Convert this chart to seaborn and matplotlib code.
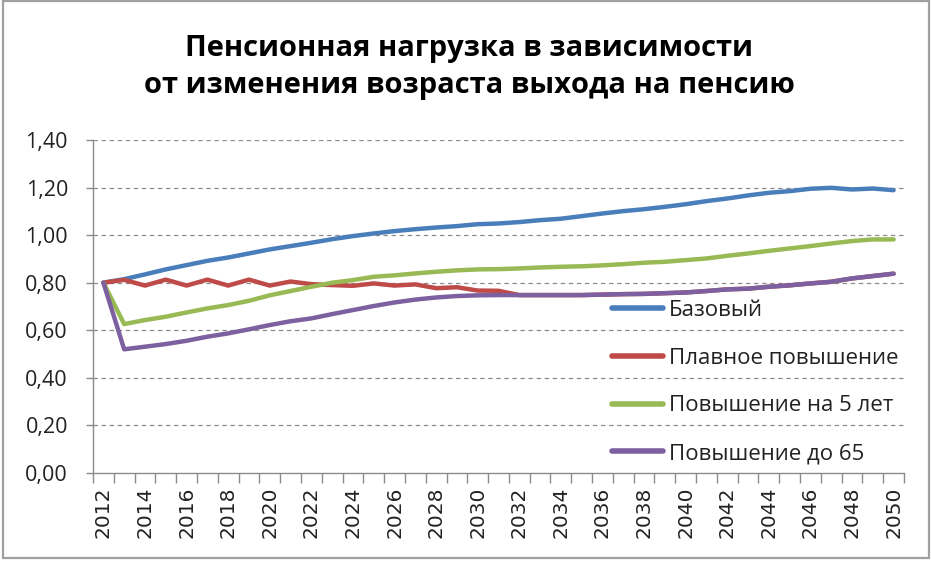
import matplotlib
matplotlib.use("Agg")
import matplotlib.pyplot as plt
from matplotlib.patches import Rectangle
from matplotlib.ticker import FixedLocator, FuncFormatter
import pandas as pd
import seaborn as sns

# --- data -------------------------------------------------------------
years = list(range(2012, 2051))

series_names = [
    "Базовый",
    "Плавное повышение",
    "Повышение на 5 лет",
    "Повышение до 65",
]

base = [0.800, 0.815, 0.835, 0.856, 0.874, 0.892, 0.906, 0.923, 0.940, 0.954,
        0.968, 0.983, 0.996, 1.007, 1.017, 1.025, 1.032, 1.038, 1.046, 1.049,
        1.055, 1.063, 1.069, 1.080, 1.091, 1.101, 1.109, 1.119, 1.130, 1.143,
        1.154, 1.167, 1.178, 1.185, 1.195, 1.199, 1.192, 1.196, 1.189]

smooth = [0.800, 0.812, 0.788, 0.813, 0.788, 0.813, 0.788, 0.813, 0.788, 0.805,
          0.794, 0.790, 0.787, 0.797, 0.788, 0.793, 0.777, 0.781, 0.767, 0.766,
          0.748, 0.748, 0.748, 0.748, 0.750, 0.752, 0.753, 0.756, 0.759, 0.765,
          0.772, 0.775, 0.783, 0.789, 0.797, 0.804, 0.818, 0.828, 0.838]

plus5 = [0.800, 0.626, 0.643, 0.657, 0.675, 0.692, 0.706, 0.724, 0.747, 0.765,
         0.783, 0.800, 0.811, 0.825, 0.831, 0.839, 0.846, 0.852, 0.856, 0.857,
         0.860, 0.864, 0.867, 0.869, 0.873, 0.878, 0.884, 0.888, 0.895, 0.902,
         0.913, 0.923, 0.934, 0.944, 0.954, 0.965, 0.975, 0.982, 0.982]

to65 = [0.800, 0.520, 0.531, 0.542, 0.556, 0.573, 0.587, 0.604, 0.622, 0.638,
        0.650, 0.668, 0.685, 0.702, 0.717, 0.729, 0.738, 0.744, 0.747, 0.748,
        0.748, 0.748, 0.748, 0.748, 0.750, 0.752, 0.753, 0.756, 0.759, 0.765,
        0.772, 0.775, 0.783, 0.789, 0.797, 0.804, 0.818, 0.828, 0.838]

colors = ["#4A7EBB", "#BE4B48", "#98B954", "#7D60A0"]

y_ticks = [0.0, 0.2, 0.4, 0.6, 0.8, 1.0, 1.2, 1.4]
x_label_years = list(range(2012, 2051, 2))

title = "Пенсионная нагрузка в зависимости\nот изменения возраста выхода на пенсию"

# --- long-form table --------------------------------------------------
frames = []
for name, vals in zip(series_names, [base, smooth, plus5, to65]):
    frames.append(pd.DataFrame({"year": years, "value": vals, "series": name}))
df = pd.concat(frames, ignore_index=True)

# --- figure -----------------------------------------------------------
sns.set_theme(style="white")
plt.rcParams["font.family"] = ["Open Sans", "DejaVu Sans"]
plt.rcParams["lines.scale_dashes"] = False

W, H = 931, 563
fig = plt.figure(figsize=(W / 100, H / 100), dpi=100)
fig.patch.set_facecolor("white")

ax = fig.add_axes([93 / W, 1 - 473 / H, (904 - 93) / W, (473 - 140) / H])

sns.lineplot(
    data=df, x="year", y="value", hue="series",
    hue_order=series_names, palette=colors,
    sort=False, linewidth=3.2, ax=ax, legend=True,
    solid_capstyle="round", solid_joinstyle="round",
)

ax.set_xlim(2011.5, 2050.5)
ax.set_ylim(0, 1.4)
ax.set_xlabel("")
ax.set_ylabel("")

grid_color = "#8C8C8C"
# dashed horizontal gridlines
for yv in y_ticks[1:]:
    ax.axhline(yv, color=grid_color, lw=0.9, ls=(0, (3.2, 2.6)), zorder=0.5)

for side in ("top", "right"):
    ax.spines[side].set_visible(False)
for side in ("left", "bottom"):
    ax.spines[side].set_visible(True)
    ax.spines[side].set_color(grid_color)
    ax.spines[side].set_linewidth(1.0)

# y axis
ax.yaxis.set_major_locator(FixedLocator(y_ticks))
ax.yaxis.set_major_formatter(FuncFormatter(lambda v, p: f"{v:.2f}".replace(".", ",")))
ax.tick_params(axis="y", which="major", left=True, length=5, width=1.0,
               color=grid_color, pad=13, labelsize=15.5, labelcolor="#222222")

# x axis: category boundaries as ticks, year labels at centres
ax.xaxis.set_major_locator(FixedLocator(x_label_years))
ax.xaxis.set_minor_locator(FixedLocator([y - 0.5 for y in years] + [2050.5]))
ax.set_xticklabels([str(y) for y in x_label_years], rotation=90,
                   family="DejaVu Sans", fontsize=14.5, color="#222222")
ax.tick_params(axis="x", which="major", bottom=True, length=0, pad=10)
ax.tick_params(axis="x", which="minor", bottom=True, length=7, width=1.0,
               color=grid_color)

# legend without frame, gridlines show through
handles, labels = ax.get_legend_handles_labels()
for h in handles:
    h.set_linewidth(4)
    h.set_solid_capstyle("round")
leg = ax.legend(
    handles, labels, loc="upper left",
    bbox_to_anchor=(612 / W, 1 - 300 / H), bbox_transform=fig.transFigure,
    frameon=False, fontsize=16, handlelength=2.3, handletextpad=0.25,
    labelspacing=1.2, borderpad=0, borderaxespad=0,
)
for t in leg.get_texts():
    t.set_color("#222222")

# title
fig.text(469 / W, 1 - 67 / H, title, ha="center", va="center",
         fontsize=21, fontweight="bold", linespacing=1.4, color="black")

# chart border
fig.patches.append(Rectangle((3 / W, 1 - 558 / H), (929 - 3) / W, (558 - 1) / H,
                             transform=fig.transFigure, fill=False,
                             edgecolor="#A0A0A0", linewidth=1.6))

fig.savefig("out.png", dpi=100, facecolor="white")
